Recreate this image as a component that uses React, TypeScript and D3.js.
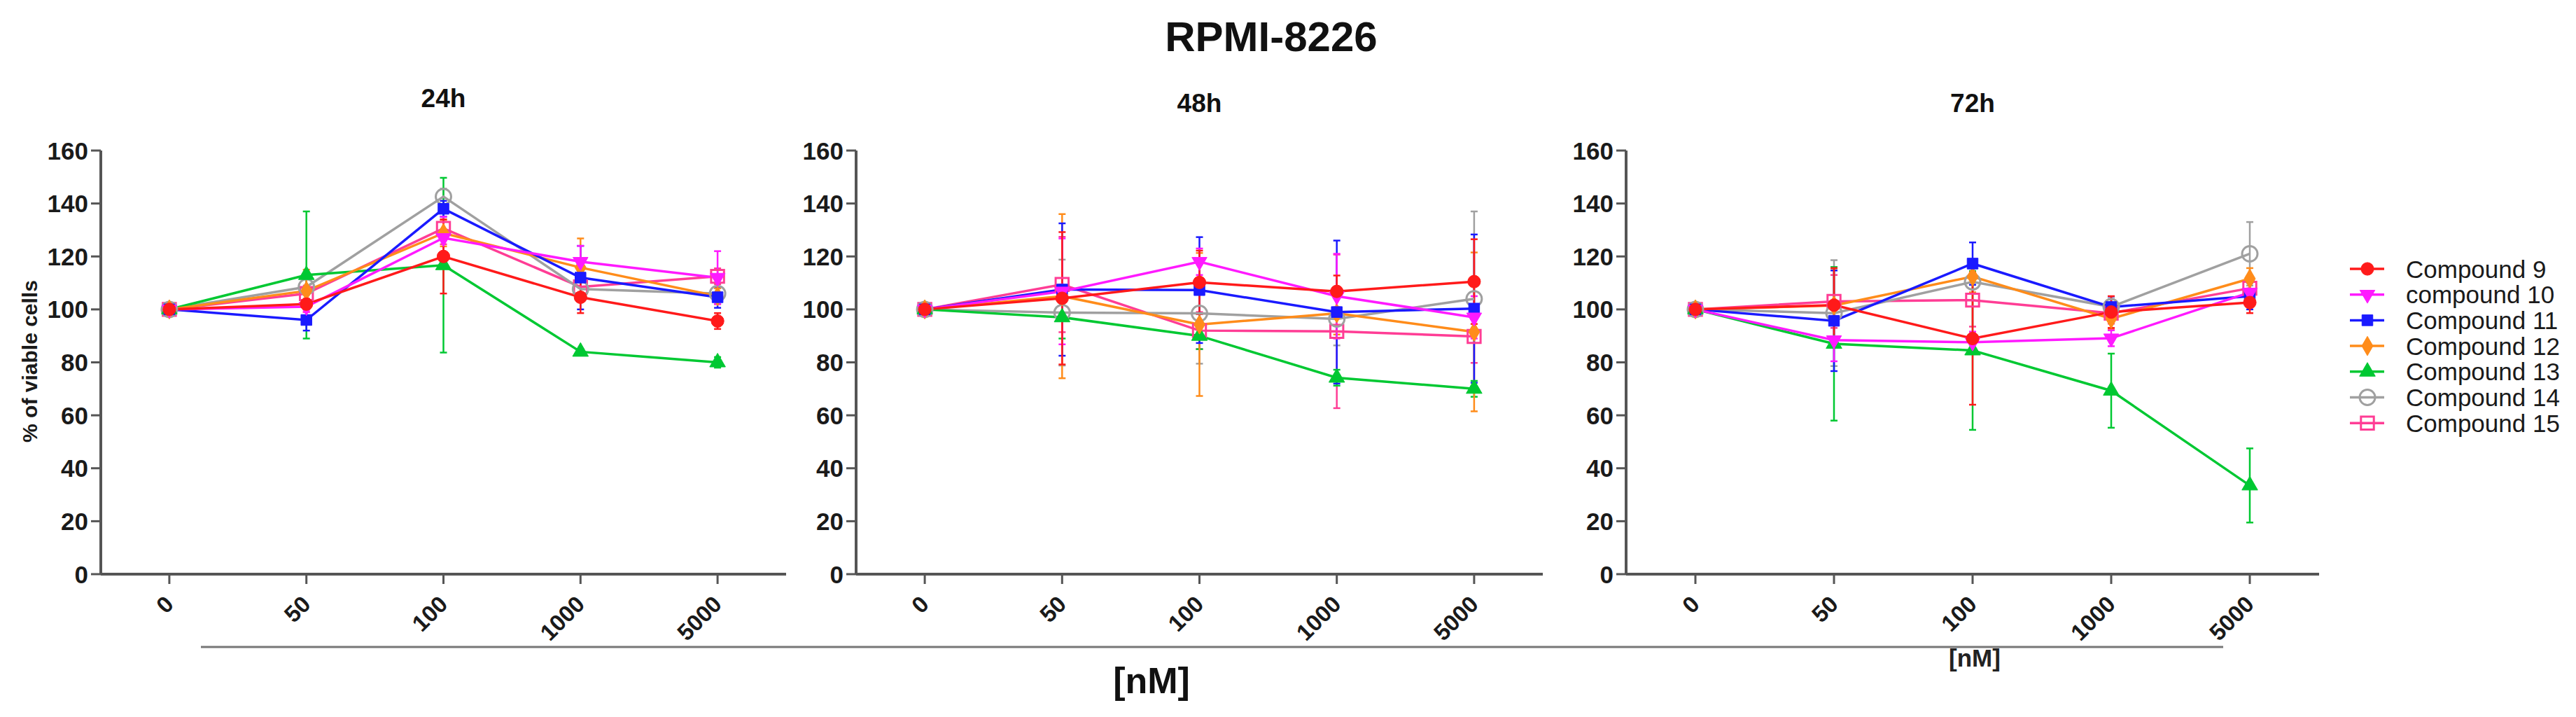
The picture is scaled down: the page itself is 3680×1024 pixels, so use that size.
import React from "react";
import * as d3 from "d3";

const doses = ["0", "50", "100", "1000", "5000"];
const compounds = ["Compound 9", "compound 10", "Compound 11", "Compound 12", "Compound 13", "Compound 14", "Compound 15"];
const panelTitles = ["24h", "48h", "72h"];
const yTicks = [0, 20, 40, 60, 80, 100, 120, 140, 160];

// means per compound (rows) per dose (cols)
const mean24h = [
  [100, 102, 120, 104.6, 95.6],
  [100, 101, 127, 118, 112],
  [100, 96, 138, 112, 104.6],
  [100, 107, 128.8, 115.8, 105],
  [100, 113, 116.7, 84, 80],
  [100, 108.5, 142.6, 107.7, 106],
  [100, 106, 130.6, 108.5, 112.5],
];
const sd24h = [
  [0, 2, 14, 6, 3],
  [0, 2, 8, 6, 10],
  [0, 4, 3, 12, 4],
  [0, 8, 5, 11, 3],
  [0, 24, 33, 1, 2],
  [0, 3, 3, 3, 2],
  [0, 3, 6, 3, 3],
];
const mean48h = [
  [100, 104.2, 110.2, 106.8, 110.5],
  [100, 106.8, 118, 105, 97],
  [100, 107.5, 107.3, 99, 100.3],
  [100, 105, 94.3, 98.5, 91.5],
  [100, 97, 90, 74.2, 70],
  [100, 98.8, 98.5, 96.4, 104],
  [100, 109.4, 92, 91.7, 89.8],
];
const sd48h = [
  [0, 25, 12, 6, 16],
  [0, 20, 5, 16, 8],
  [0, 25, 20, 27, 28],
  [0, 31, 27, 8, 30],
  [0, 8, 5, 3, 3],
  [0, 20, 19, 10, 33],
  [0, 18, 7, 29, 10],
];
const mean72h = [
  [100, 101.6, 89, 99, 102.6],
  [100, 88.4, 87.6, 89.1, 106.4],
  [100, 95.7, 117.3, 100.9, 105],
  [100, 101.5, 112.4, 96.5, 111.6],
  [100, 87, 84.5, 69.3, 33.5],
  [100, 98.6, 110.4, 101, 121],
  [100, 103, 103.5, 98.6, 108],
];
const sd72h = [
  [0, 14, 25, 6, 4],
  [0, 8, 4, 3, 5],
  [0, 19, 8, 4, 5],
  [0, 14, 6, 4, 4],
  [0, 29, 30, 14, 14],
  [0, 20, 4, 3, 12],
  [0, 10, 10, 4, 4],
];

const colors = ["#ff1a1a", "#ff1aff", "#1a1aff", "#ff8c1a", "#00c832", "#a0a0a0", "#ff3d95"];
const symbols = [d3.symbolCircle, d3.symbolTriangle, d3.symbolSquare, d3.symbolDiamond, d3.symbolTriangle, d3.symbolCircle, d3.symbolSquare];
const rotations = [0, 180, 0, 0, 0, 0, 0];
const filled = [true, true, true, true, true, false, false];
const symSizes = [260, 200, 240, 220, 220, 380, 340];

const panels = [
  { x0: 144, x1: 1123, means: mean24h, sds: sd24h },
  { x0: 1223, x1: 2204, means: mean48h, sds: sd48h },
  { x0: 2323, x1: 3313, means: mean72h, sds: sd72h },
];

const FONT = "'Liberation Sans', Arial, sans-serif";
const yScale = d3.scaleLinear().domain([0, 160]).range([820, 215]);

function Marker({ i, x, y }: { i: number; x: number; y: number }) {
  const path = d3.symbol().type(symbols[i]).size(symSizes[i])() || "";
  return (
    <path
      d={path}
      transform={`translate(${x},${y}) rotate(${rotations[i]})`}
      fill={filled[i] ? colors[i] : "none"}
      stroke={colors[i]}
      strokeWidth={filled[i] ? 1 : 3}
    />
  );
}

function Panel({ idx }: { idx: number }) {
  const p = panels[idx];
  const x = d3.scalePoint<string>().domain(doses).range([p.x0, p.x1]).padding(0.5);
  const line = d3
    .line<number>()
    .x((_, j) => x(doses[j]) as number)
    .y((v) => yScale(v));
  const order = [6, 5, 4, 3, 2, 1, 0];
  const axisY = yScale(0);
  return (
    <g>
      <text x={(x(doses[0])! + x(doses[4])!) / 2} y={idx === 0 ? 153 : 160} textAnchor="middle" fontFamily={FONT} fontWeight="bold" fontSize={37} fill="#111">
        {panelTitles[idx]}
      </text>
      {/* axes */}
      <line x1={p.x0} x2={p.x0} y1={yScale(160)} y2={axisY} stroke="#555" strokeWidth={4} />
      <line x1={p.x0} x2={p.x1} y1={axisY} y2={axisY} stroke="#555" strokeWidth={4} />
      {yTicks.map((t) => (
        <g key={t}>
          <line x1={p.x0 - 14} x2={p.x0} y1={yScale(t)} y2={yScale(t)} stroke="#555" strokeWidth={3} />
          <text x={p.x0 - 18} y={yScale(t)} dy="0.36em" textAnchor="end" fontFamily={FONT} fontWeight="bold" fontSize={35} fill="#1a1a1a">
            {t}
          </text>
        </g>
      ))}
      {doses.map((d) => (
        <g key={d}>
          <line x1={x(d)} x2={x(d)} y1={axisY} y2={axisY + 14} stroke="#555" strokeWidth={3} />
          <text
            transform={`translate(${x(d)! + 8},${axisY + 45}) rotate(-45)`}
            textAnchor="end"
            fontFamily={FONT}
            fontWeight="bold"
            fontSize={33}
            fill="#1a1a1a"
          >
            {d}
          </text>
        </g>
      ))}
      {/* error bars */}
      {order.map((i) => (
        <g key={"e" + i} stroke={colors[i]} strokeWidth={2.5}>
          {p.means[i].map((m, j) => {
            const s = p.sds[i][j];
            if (!s) return null;
            const cx = x(doses[j]) as number;
            return (
              <g key={j}>
                <line x1={cx} x2={cx} y1={yScale(m - s)} y2={yScale(m + s)} />
                <line x1={cx - 5} x2={cx + 5} y1={yScale(m - s)} y2={yScale(m - s)} />
                <line x1={cx - 5} x2={cx + 5} y1={yScale(m + s)} y2={yScale(m + s)} />
              </g>
            );
          })}
        </g>
      ))}
      {/* lines */}
      {order.map((i) => (
        <path key={"l" + i} d={line(p.means[i]) || ""} fill="none" stroke={colors[i]} strokeWidth={3.5} />
      ))}
      {/* markers */}
      {order.map((i) => (
        <g key={"m" + i}>
          {p.means[i].map((m, j) => (
            <Marker key={j} i={i} x={x(doses[j]) as number} y={yScale(m)} />
          ))}
        </g>
      ))}
    </g>
  );
}

export default function App() {
  return (
    <svg width={3680} height={1024} style={{ position: "absolute", left: 0, top: 0, background: "#fff" }}>
      <rect width={3680} height={1024} fill="#fff" />
      <text x={1816} y={73} textAnchor="middle" fontFamily={FONT} fontWeight="bold" fontSize={60} fill="#111">
        RPMI-8226
      </text>
      <text transform="translate(53,516) rotate(-90)" textAnchor="middle" fontFamily={FONT} fontWeight="bold" fontSize={30} fill="#1a1a1a">
        % of viable cells
      </text>
      {panelTitles.map((_, i) => (
        <Panel key={i} idx={i} />
      ))}
      <line x1={287} x2={3176} y1={924} y2={924} stroke="#777" strokeWidth={3} />
      <text x={1645} y={990} textAnchor="middle" fontFamily={FONT} fontWeight="bold" fontSize={52} fill="#111">
        [nM]
      </text>
      <text x={2821} y={952} textAnchor="middle" fontFamily={FONT} fontWeight="bold" fontSize={35} fill="#222">
        [nM]
      </text>
      {/* legend */}
      {compounds.map((c, i) => {
        const ly = 384 + i * 36.7;
        return (
          <g key={c}>
            <line x1={3357} x2={3406} y1={ly} y2={ly} stroke={colors[i]} strokeWidth={3.5} />
            <Marker i={i} x={3382} y={ly} />
            <text x={3437} y={ly} dy="0.36em" fontFamily={FONT} fontSize={35} fill="#1a1a1a">
              {c}
            </text>
          </g>
        );
      })}
    </svg>
  );
}
